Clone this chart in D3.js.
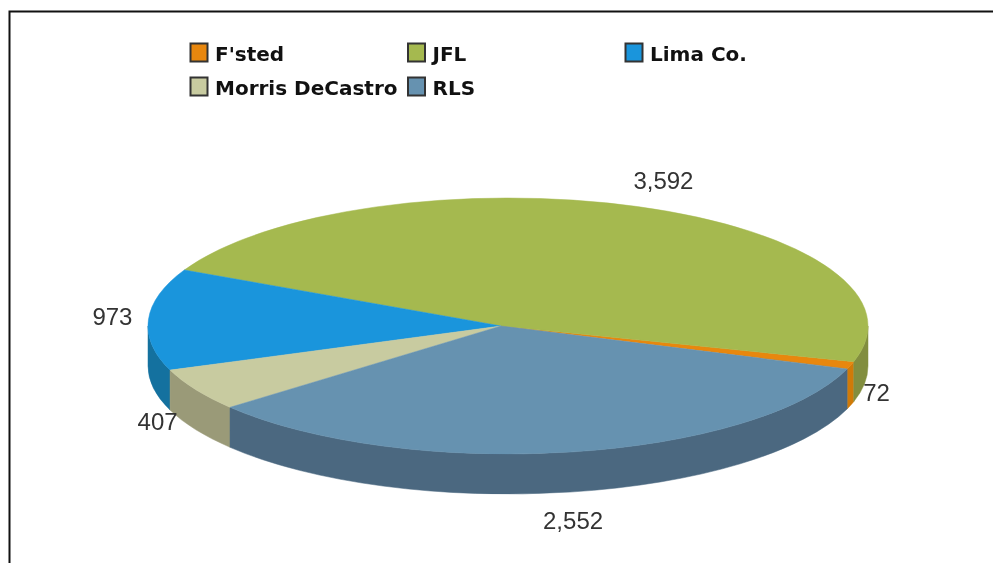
<!DOCTYPE html>
<html><head><meta charset="utf-8">
<script src="https://cdn.jsdelivr.net/npm/d3@7"></script>
<style>html,body{margin:0;padding:0;background:#fff}svg{display:block;filter:blur(0.45px)}</style>
</head><body><div id="chart"></div>
<script>
const categories=["F'sted","JFL","Lima Co.","Morris DeCastro","RLS"];
const values=[72,3592,973,407,2552];
const topColors=["#e8870e","#a5b94f","#1a95dc","#c8cba0","#6692b0"];
const sideColors=["#d07a08","#828e3f","#14719f","#9a9a78","#4b6880"];

const W=993,H=563,cx=508,cy=326,apexX=501,rx=360,ry=128,depth=40;
const svg=d3.select("#chart").append("svg").attr("width",W).attr("height",H);
svg.append("path").attr("d",`M9.5,${H}V11.5H${W}`).attr("fill","none").attr("stroke","#111").attr("stroke-width",2);

const start=(90+19.6)*Math.PI/180;
const arcs=d3.pie().sort(null).value(d=>d).startAngle(start).endAngle(start-2*Math.PI)(values);
const px=a=>cx+rx*Math.sin(a), py=a=>cy-ry*Math.cos(a);

function wall(a0,a1){
  const lo=Math.max(Math.min(a0,a1),Math.PI/2), hi=Math.min(Math.max(a0,a1),3*Math.PI/2);
  if(hi<=lo) return null;
  return `M${px(lo)},${py(lo)}A${rx},${ry} 0 0 1 ${px(hi)},${py(hi)}`+
         `L${px(hi)},${py(hi)+depth}A${rx},${ry} 0 0 0 ${px(lo)},${py(lo)+depth}Z`;
}
const sides=svg.append("g");
arcs.forEach((d,i)=>{
  [0,2*Math.PI].forEach(k=>{
    const p=wall(d.startAngle+k,d.endAngle+k);
    if(p) sides.append("path").attr("d",p).attr("fill",sideColors[i]).attr("stroke",sideColors[i]).attr("stroke-width",.5);
  });
});
// top face: wedge from the apex to the rim, slices run counter-clockwise on screen
const wedge=d=>{
  const large=Math.abs(d.endAngle-d.startAngle)>Math.PI?1:0;
  return `M${apexX},${cy}L${px(d.startAngle)},${py(d.startAngle)}A${rx},${ry} 0 ${large} 0 ${px(d.endAngle)},${py(d.endAngle)}Z`;
};
svg.append("g").selectAll("path").data(arcs).join("path").attr("d",wedge)
  .attr("fill",(d,i)=>topColors[i]).attr("stroke",(d,i)=>topColors[i]).attr("stroke-width",.5);

const labelNudge=[[26,27],[26,-26],[-36,-3],[-38,32],[3,69]];
const fmt=d3.format(",");
svg.append("g").selectAll("text").data(arcs).join("text")
  .attr("x",(d,i)=>px((d.startAngle+d.endAngle)/2)+labelNudge[i][0])
  .attr("y",(d,i)=>py((d.startAngle+d.endAngle)/2)+labelNudge[i][1]).attr("dy","0.35em")
  .attr("text-anchor","middle").attr("font-family","Liberation Sans,Arial,sans-serif")
  .attr("font-size",24).attr("fill","#333").text(d=>fmt(d.value));

const legX=d3.scalePoint().domain([0,1,2]).range([190,625]);
const leg=svg.append("g").selectAll("g").data(categories).join("g")
  .attr("transform",(d,i)=>`translate(${legX(i%3)},${43+Math.floor(i/3)*34})`);
leg.append("rect").attr("x",.5).attr("y",.5).attr("width",17).attr("height",18)
  .attr("fill",(d,i)=>topColors[i]).attr("stroke","#333").attr("stroke-width",2);
leg.append("text").attr("x",25).attr("y",10.5).attr("dy","0.35em")
  .attr("font-family","DejaVu Sans,Verdana,sans-serif").attr("font-weight","bold")
  .attr("font-size",20).attr("fill","#111").text(d=>d);
</script></body></html>
